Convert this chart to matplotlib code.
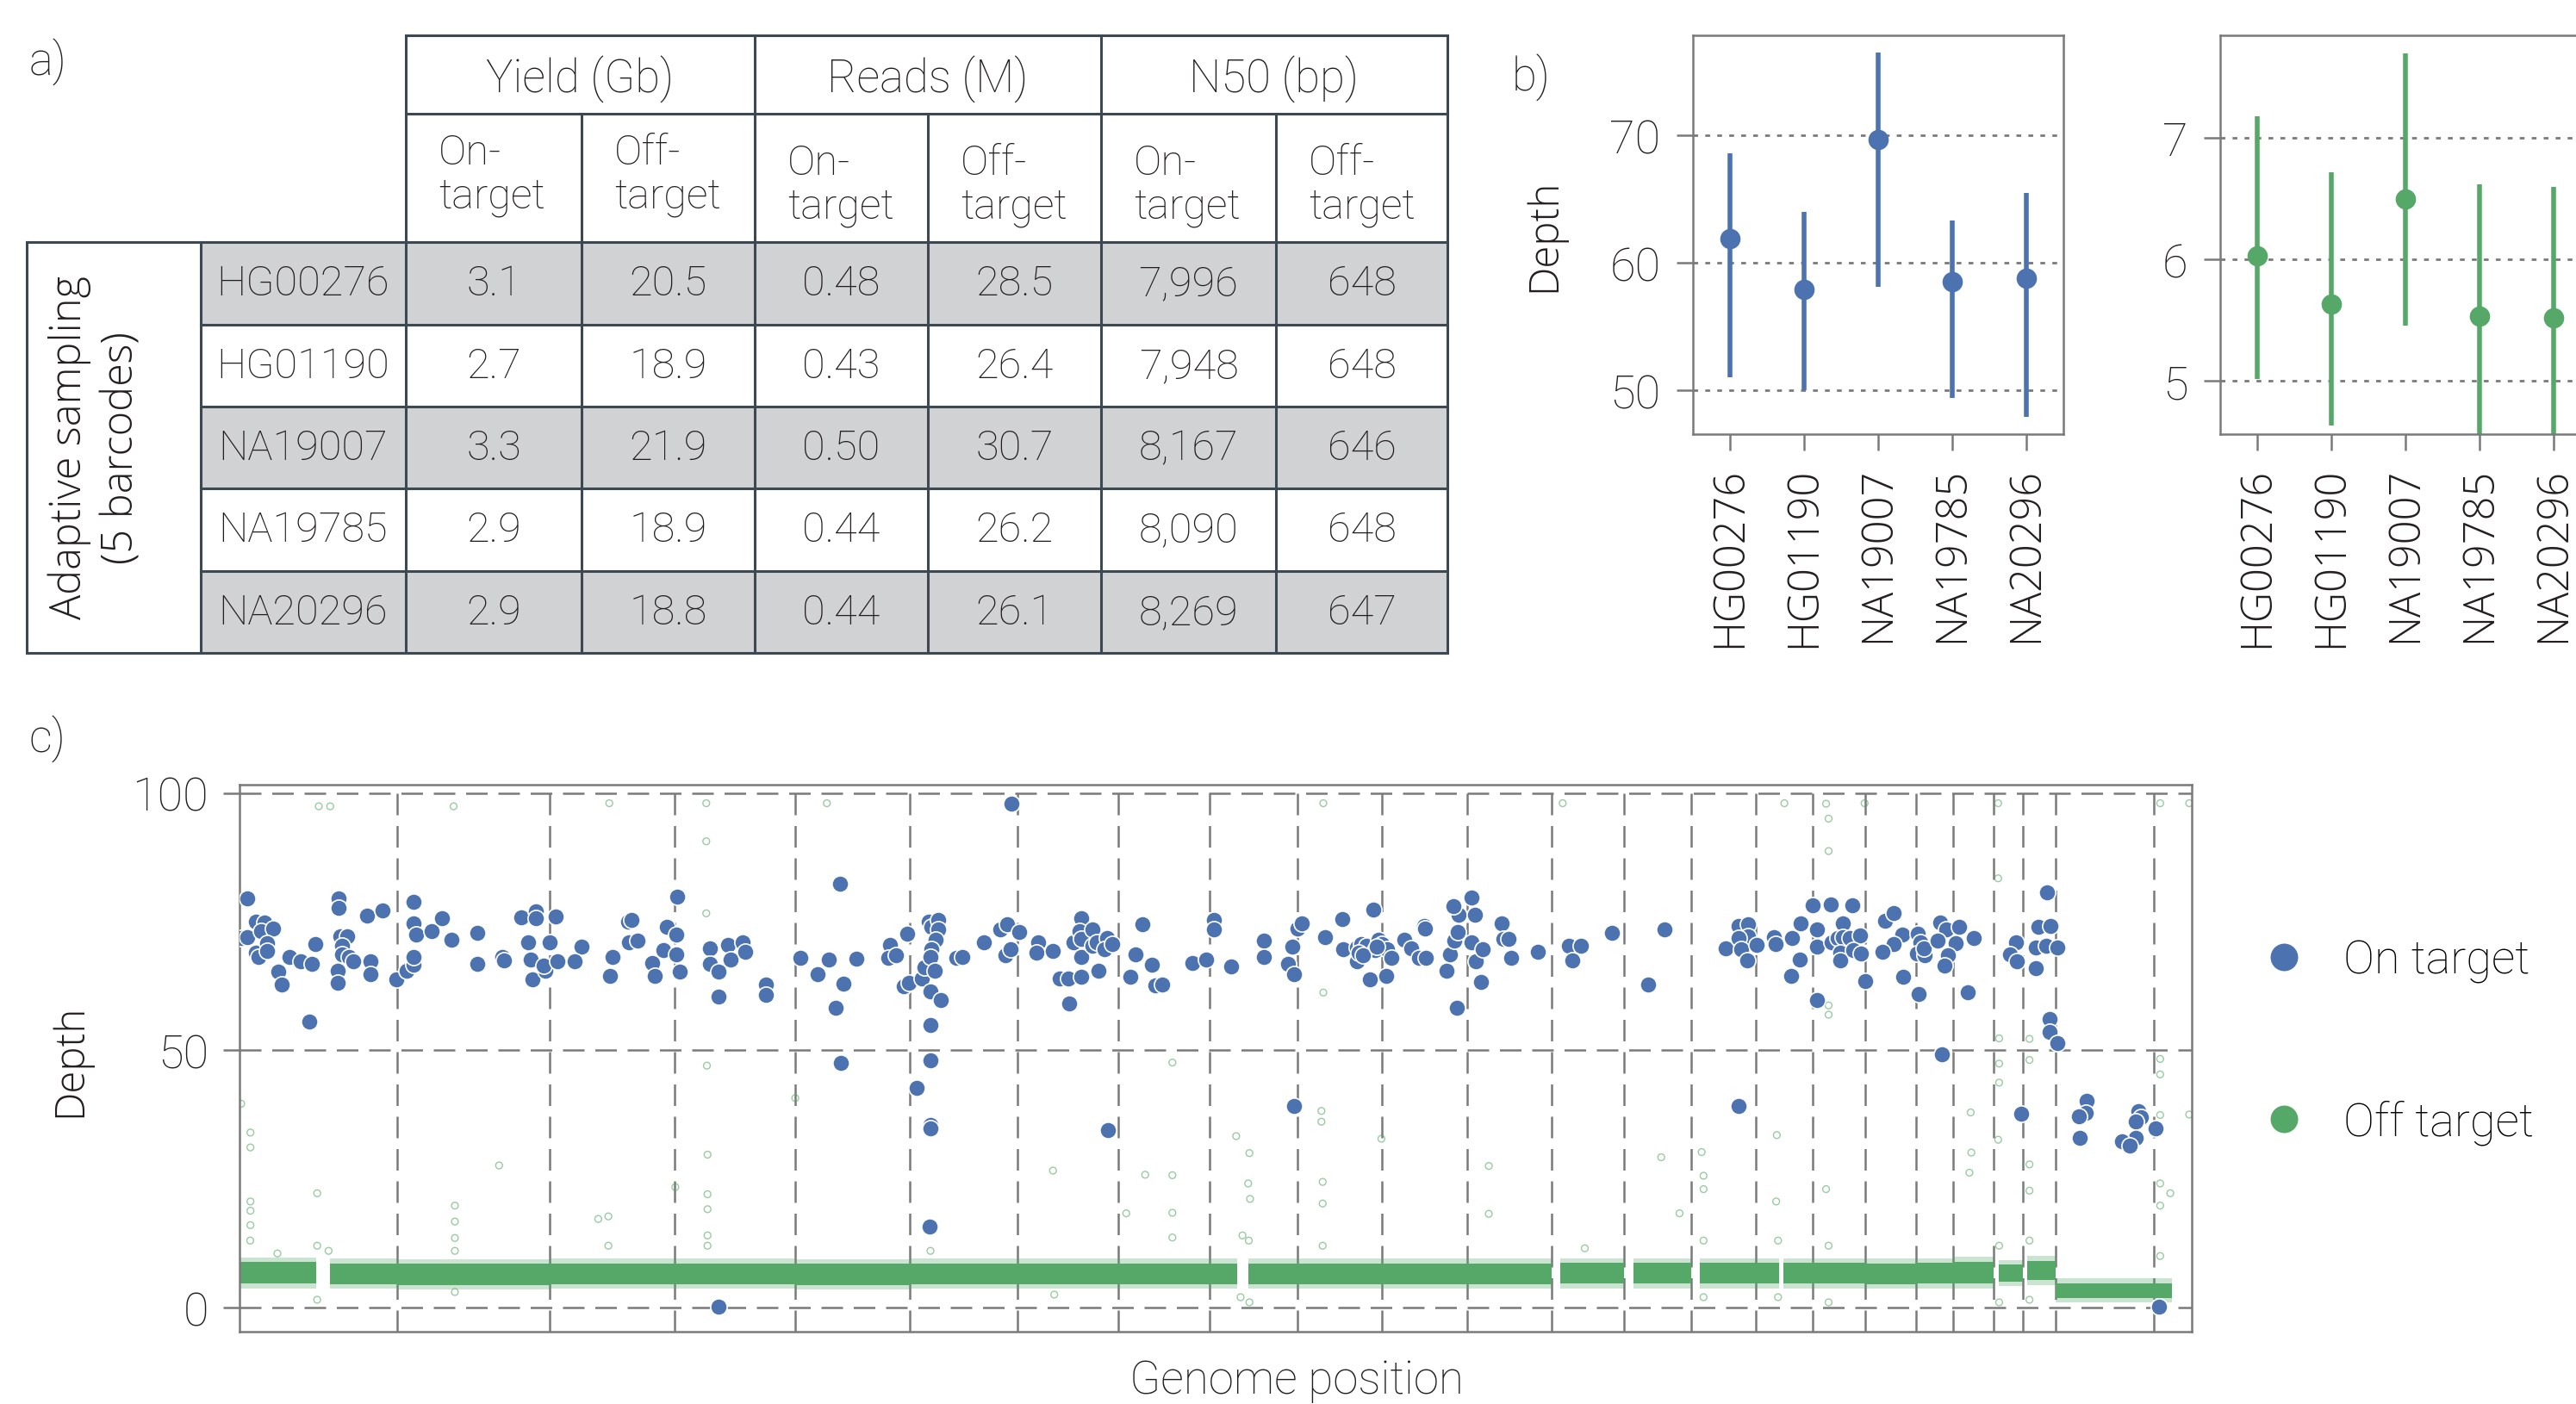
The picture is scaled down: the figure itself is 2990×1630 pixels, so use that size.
import numpy as np
import matplotlib.pyplot as plt
from matplotlib.lines import Line2D
from matplotlib.patches import Rectangle

plt.rcParams['font.family'] = ['Roboto', 'DejaVu Sans']
plt.rcParams['font.weight'] = 'light'

BLUE = '#4c72b0'
GREEN = '#55a868'
GRID = '#7a7a7a'
LINE = '#3c4952'
SHADE = '#d1d2d4'
TXT = '#231f20'
ROT = dict(family=['Open Sans', 'DejaVu Sans'], weight='light')  # wider face for the rotated texts

# ---------- a) table ----------
samples = ['HG00276', 'HG01190', 'NA19007', 'NA19785', 'NA20296']
groups = ['Yield (Gb)', 'Reads (M)', 'N50 (bp)']
sub_headers = ['On-\ntarget', 'Off-\ntarget']
yield_on = [3.1, 2.7, 3.3, 2.9, 2.9]
yield_off = [20.5, 18.9, 21.9, 18.9, 18.8]
reads_on = [0.48, 0.43, 0.50, 0.44, 0.44]
reads_off = [28.5, 26.4, 30.7, 26.2, 26.1]
n50_on = [7996, 7948, 8167, 8090, 8269]
n50_off = [648, 648, 646, 648, 647]

# ---------- b) mean depth per sample ----------
on_mean = [61.9, 57.9, 69.7, 58.5, 58.8]
on_low = [51.0, 50.0, 58.1, 49.4, 47.9]
on_high = [68.6, 64.0, 76.5, 63.3, 65.5]
off_mean = [6.03, 5.63, 6.50, 5.53, 5.52]
off_low = [5.01, 4.63, 5.45, 4.45, 4.45]
off_high = [7.18, 6.72, 7.70, 6.62, 6.60]

# ---------- c) depth along the genome (Mb) ----------
chrom_len = [248.96, 242.19, 198.30, 190.21, 181.54, 170.81, 159.35, 145.14,
             138.39, 133.80, 135.09, 133.28, 114.36, 107.04, 101.99, 90.34,
             83.26, 80.37, 58.62, 64.44, 46.71, 50.82, 156.04, 57.23]

on_pos = [12.7, 2.7, 12.7, 25.5, 39, 34.5, 53.6, 25.5, 30, 43.6, 43.6, 60.9, 66.4, 79, 97.3,
          115, 120, 110.5, 157, 157, 159.5, 170, 161.8, 161.8, 173, 180, 156, 156, 202, 226,
          207, 208, 248, 264, 275.5, 275.5, 275.5, 275.5, 279, 303.6, 320, 335.5, 376, 376,
          416, 419, 446, 468.6, 468.6, 457, 461, 464, 483.6, 482, 491, 500.5, 502.7,
          541, 530, 590, 586, 615.5, 621, 616, 630, 653, 658, 676, 671, 693, 692, 692, 697,
          745, 745, 759, 759, 773.6, 778, 796, 800.5, 834, 834, 758.6, 888, 915, 933, 950.5,
          956, 944.5, 951.5, 976,
          1030, 1027.7, 1039, 1057, 1052, 1059.5, 1071.8, 1080, 1084.5, 1091, 1096, 1106,
          1106, 1101.8, 1095, 1094, 1100.5, 1094.5, 1110.9, 1094, 1094, 1094, 1094, 1093,
          1134.5, 1144.5, 1179, 1205, 1216, 1212, 1221, 1234, 1222.3, 1264, 1262, 1287.7,
          1298.6, 1312, 1333, 1313.8, 1319.9, 1332.7, 1330.5, 1333, 1333, 1349.8, 1351,
          1357.3, 1373, 1370, 1382, 1360, 1375.5, 1418.6, 1430, 1410, 1445, 1450, 1460.5, 1508.2,
          1530, 1542.3, 1542.3, 1570, 1622, 1622, 1659.5, 1670, 1667.3, 1674.5, 1681.4, 1670,
          1718.6, 1746, 1747, 1769.5, 1769.5, 1775.5, 1784.5, 1789.5, 1795, 1797.3, 1803,
          1809, 1816.4, 1824, 1815.5, 1772, 1779, 1800, 1843.6, 1855, 1867.7, 1879, 1875.5,
          1876.4, 1911, 1917, 1922.7, 1928.6, 1929.5, 1921.4, 1927.7, 1951, 1955.5, 1950,
          1958, 1968, 1965, 1998, 2000.5, 2013,
          2009, 2056, 2105, 2124.5, 2110, 2172.3, 2256, 2230, 2353, 2373.6, 2388.2, 2389,
          2373.6, 2378, 2401.8, 2387, 2373.2, 2429.5, 2432.7, 2457.7, 2471.4, 2469.9, 2456.8,
          2490.5, 2498.2, 2498.2, 2498.2, 2520, 2521,
          2554, 2538, 2530, 2539, 2550, 2566, 2535, 2535, 2555, 2567.7, 2573.6, 2605, 2619.5,
          2632.3, 2619.5, 2601.4, 2634.5, 2658, 2657.3, 2661.8, 2656.4, 2668.6, 2666.4, 2693,
          2702, 2723, 2688, 2717.3, 2705, 2699, 2746, 2736, 2695, 2813, 2803, 2814, 2821,
          2861.8, 2848, 2867, 2844, 2860, 2878, 2844.5, 2866.4, 2866.4, 2878,
          2924, 2923, 2912, 2914, 3006.4, 3010.5, 3001.8, 3001.8, 2980, 2992.7, 3033.6, 3039]
on_depth = [79.5, 71.8, 71.9, 74.9, 74.8, 73.2, 73.7, 68.9, 68.2, 70.8, 69.3, 65.2, 62.7, 68.2, 67.3,
            66.7, 70.7, 55.6, 79.5, 77.6, 72.1, 72.2, 70.3, 68.6, 68.2, 67.3, 65.4, 63.1, 76.1, 77.2,
            67.2, 64.7, 63.8, 65.4, 66.6, 68.2, 74.6, 78.8, 72.5, 73.2, 75.6, 71.4, 72.8, 66.8,
            68.2, 67.5, 75.8, 77.0, 75.6, 71.0, 67.7, 63.8, 65.4, 66.5, 70.9, 76.0, 67.3,
            70.2, 67.2, 68.2, 64.5, 74.9, 75.3, 71.0, 71.3, 67.0, 64.5, 74.0, 69.4, 79.9, 72.5, 68.6, 65.3,
            69.8, 66.8, 65.3, 60.5, 70.5, 67.7, 71.0, 69.1, 62.7, 60.8, 0.2, 67.9, 64.8, 67.7, 82.3,
            62.9, 58.2, 47.6, 67.8,
            70.5, 67.9, 68.4, 72.6, 62.4, 63.1, 42.7, 64.0, 66.1, 74.9, 73.9, 75.4,
            73.5, 71.5, 69.6, 68.1, 65.5, 61.5, 59.7, 54.9, 48.1, 35.5, 34.8, 15.8,
            68.0, 68.1, 70.9, 73.4, 74.5, 68.4, 69.6, 73.0, 98.0, 70.9, 68.9, 69.3,
            64.0, 64.0, 64.2, 59.0, 70.9, 75.6, 73.1, 71.6, 68.2, 73.5, 70.3,
            70.9, 71.8, 69.6, 70.7, 65.4, 34.5, 68.7, 74.4, 64.3, 66.6, 62.6, 62.7, 67.0,
            67.7, 75.3, 73.5, 66.3, 71.3, 68.1, 66.7, 64.7, 70.2, 73.7, 74.6, 39.1,
            71.9, 75.5, 69.7, 70.0, 67.2, 70.7, 70.3, 63.8, 77.3, 69.4, 71.4,
            70.7, 69.6, 67.9, 64.5, 69.0, 68.5, 70.2, 71.4, 69.8, 68.0, 68.0, 74.2,
            73.7, 65.4, 68.6, 71.3, 73.0, 76.3, 78.0, 58.3, 79.6, 76.3, 70.9,
            67.2, 69.6, 63.3, 74.6, 71.6, 68.0,
            71.6, 69.1, 70.3, 70.3, 67.5, 72.8, 73.5, 62.7, 69.8, 74.1, 74.4, 72.1,
            71.8, 69.6, 70.5, 67.5, 39.1, 72.0, 70.6, 71.8, 74.7, 67.7, 64.5,
            78.2, 73.4, 70.1, 59.7, 78.3, 70.9,
            78.2, 74.6, 71.8, 72.0, 71.8, 72.3, 68.9, 67.4, 69.4, 68.8, 63.5, 75.1, 76.6,
            72.4, 70.6, 69.1, 64.3, 61.0, 72.7, 71.0, 68.8, 68.5, 69.8, 74.8,
            73.4, 74.0, 71.3, 70.8, 68.5, 66.5, 71.8, 61.3, 49.2, 70.9, 68.6, 67.2, 37.6,
            80.7, 73.9, 74.2, 70.0, 70.3, 70.0, 65.9, 56.0, 53.6, 51.3,
            40.2, 37.9, 37.1, 32.9, 38.1, 36.9, 36.2, 32.9, 32.3, 31.5, 34.8, 0.1]

# off-target depth: bulk band per genome segment (start, end in Mb; low/high depth)
band_start = [0, 143, 248.96, 491.15, 689.45, 879.66, 1061.2, 1232.0, 1391.36, 1536.5, 1597.5,
              1674.89, 1808.69, 1943.78, 2091, 2207, 2312, 2400.45, 2444, 2490.79, 2574.05,
              2654.42, 2713.04, 2785, 2830, 2875.01]
band_end = [121, 248.96, 491.15, 689.45, 879.66, 1061.2, 1232.0, 1391.36, 1536.5, 1579.5, 1674.89,
            1808.69, 1943.78, 2077.06, 2191.42, 2298.46, 2400.45, 2437, 2490.79, 2574.05, 2654.42,
            2713.04, 2777.48, 2824.19, 2875.01, 3059]
band_low = [4.6, 4.5, 4.4, 4.5, 4.5, 4.4, 4.5, 4.5, 4.5, 4.5, 4.5, 4.5, 4.5, 4.5, 4.6, 4.6, 4.6,
            4.6, 4.6, 4.6, 4.5, 4.6, 4.6, 5.0, 5.3, 1.9]
band_high = [8.8, 8.6, 8.5, 8.6, 8.6, 8.5, 8.6, 8.6, 8.6, 8.6, 8.6, 8.6, 8.6, 8.6, 8.7, 8.7, 8.7,
             8.7, 8.7, 8.7, 8.6, 8.7, 8.9, 8.3, 9.1, 4.7]

# off-target outlier windows
out_pos = [125.5, 143.6, 339, 2.7, 17.3, 17.3, 17.3, 17.3, 17.3, 123, 411, 341, 341, 341,
           585.5, 739, 739, 739, 740, 880, 930, 741, 741, 741, 584, 568, 690,
           1288, 1434, 1477, 1477, 1477, 1404, 1477,
           1716, 1716, 1713, 1713, 1578, 1599, 1597, 1600, 1808, 1978, 1978, 1715, 1715,
           2095, 2446, 2512, 2516, 2516, 2516, 2516, 2251, 2315, 2318, 2318, 2434, 2280, 2433, 2512,
           2573, 2784.5, 2784.5, 3041, 3087, 3087, 3041, 3041, 3041, 2786, 2786, 2786, 2834, 2834,
           2741, 2742, 2739, 2784.5, 3041, 3057, 2834, 2834, 3041,
           17, 123, 141, 341, 584, 741, 741, 1094, 1588, 1598, 1715, 2318, 2436, 2516, 2786,
           2834, 3041, 123, 341, 1599, 1585, 2318, 2436, 2516, 2786, 2834, 60, 1290, 2130]
out_depth = [97.4, 97.4, 97.4, 39.6, 34.0, 31.1, 20.6, 18.8, 16.0, 22.2, 27.6, 19.8, 16.7, 13.5,
             98.0, 98.0, 90.6, 76.6, 47.0, 40.7, 98.0, 29.7, 22.0, 19.1, 17.7, 17.2, 23.4,
             26.6, 25.8, 25.7, 18.4, 47.6, 18.3, 13.6,
             98.0, 61.2, 38.2, 36.1, 33.3, 30.0, 24.1, 21.1, 32.8, 27.5, 18.2, 24.4, 20.2,
             98.0, 98.0, 97.9, 95.0, 88.7, 58.7, 56.9, 29.2, 30.2, 25.6, 23.0, 33.5, 18.3, 20.6, 23.0,
             98.0, 98.0, 83.4, 98.0, 98.0, 37.5, 48.3, 45.3, 37.4, 52.3, 47.4, 43.7, 52.2, 48.1,
             37.9, 30.1, 26.2, 32.6, 24.1, 22.2, 27.8, 22.7, 19.8,
             13.0, 12.0, 11.0, 11.0, 12.0, 12.0, 14.0, 11.0, 14.0, 13.0, 12.0, 13.0, 13.0, 12.0, 12.0,
             13.0, 10.0, 1.5, 3.0, 1.0, 2.0, 2.0, 2.0, 1.0, 1.0, 1.5, 10.5, 2.5, 11.5]

W, H = 2990, 1631
fig = plt.figure(figsize=(W / 200, H / 200), dpi=200)

# background axes in pixel units for the table and panel letters
bg = fig.add_axes([0, 0, 1, 1])
bg.set_xlim(0, W)
bg.set_ylim(H, 0)
bg.axis('off')

col_x = [30.5, 233, 471, 675, 876, 1077, 1278, 1481, 1680]
row_y = [42, 133, 282, 378, 473, 568, 664, 759]
lc = dict(color=LINE, lw=1.1, solid_capstyle='projecting')

for i in range(len(samples)):
    if i % 2 == 0:
        bg.add_patch(Rectangle((col_x[1], row_y[2 + i]), col_x[-1] - col_x[1],
                               row_y[3 + i] - row_y[2 + i], color=SHADE, lw=0))

bg.plot([col_x[2], col_x[-1]], [row_y[0]] * 2, **lc)
bg.plot([col_x[2], col_x[-1]], [row_y[1]] * 2, **lc)
bg.plot([col_x[0], col_x[-1]], [row_y[2]] * 2, **lc)
for y in row_y[3:-1]:
    bg.plot([col_x[1], col_x[-1]], [y, y], **lc)
bg.plot([col_x[0], col_x[-1]], [row_y[-1]] * 2, **lc)
bg.plot([col_x[0]] * 2, [row_y[2], row_y[-1]], **lc)
bg.plot([col_x[1]] * 2, [row_y[2], row_y[-1]], **lc)
for j, x in enumerate(col_x[2:]):
    top = row_y[0] if j % 2 == 0 else row_y[1]
    bg.plot([x, x], [top, row_y[-1]], **lc)

tfs = 17.5
for g, name in enumerate(groups):
    bg.text((col_x[2 + 2 * g] + col_x[4 + 2 * g]) / 2, 92, name, ha='center', va='center',
            fontsize=19, color=TXT)
for k in range(6):
    yc = 203 if k < 2 else 215
    bg.text(col_x[2 + k] + 38, yc, sub_headers[k % 2], ha='left', va='center',
            fontsize=tfs, color=TXT, linespacing=1.1)

columns = [(yield_on, '{:.1f}'), (yield_off, '{:.1f}'), (reads_on, '{:.2f}'),
           (reads_off, '{:.1f}'), (n50_on, '{:,}'), (n50_off, '{}')]
for i, s in enumerate(samples):
    yc = (row_y[2 + i] + row_y[3 + i]) / 2
    bg.text((col_x[1] + col_x[2]) / 2, yc, s, ha='center', va='center', fontsize=tfs, color=TXT)
    for k, (vals, fmt) in enumerate(columns):
        bg.text((col_x[2 + k] + col_x[3 + k]) / 2, yc, fmt.format(vals[i]),
                ha='center', va='center', fontsize=tfs, color=TXT)
bg.text(111, 520, 'Adaptive sampling\n(5 barcodes)', rotation=90, ha='center', va='center',
        fontsize=17.5, color=TXT, linespacing=1.3, multialignment='center', **ROT)

bg.text(34, 72, 'a)', ha='left', va='center', fontsize=19, color=TXT)
bg.text(1755, 90, 'b)', ha='left', va='center', fontsize=19, color=TXT)
bg.text(34, 858, 'c)', ha='left', va='center', fontsize=19, color=TXT)


def style(ax):
    for sp in ax.spines.values():
        sp.set_color(GRID)
        sp.set_linewidth(0.9)
    ax.set_axisbelow(True)


# ---------- b) panels ----------
xs = np.arange(len(samples))
panels = [(1965, on_mean, on_low, on_high, BLUE, (46.55, 77.85), [50, 60, 70]),
          (2577, off_mean, off_low, off_high, GREEN, (4.558, 7.847), [5, 6, 7])]
for left, mean, lo, hi, col, ylim, yt in panels:
    ax = fig.add_axes([left / W, 1 - 505 / H, 430 / W, 463 / H])
    mean = np.array(mean)
    ax.errorbar(xs, mean, yerr=[mean - np.array(lo), np.array(hi) - mean], fmt='o',
                color=col, ms=7.5, elinewidth=2, capsize=0)
    ax.set_xlim(-0.5, 4.5)
    ax.set_ylim(*ylim)
    ax.set_xticks(xs)
    ax.set_xticklabels(samples, rotation=90, fontsize=17.5, **ROT)
    ax.set_yticks(yt)
    ax.grid(axis='y', linestyle=(0, (2, 3)), color=GRID, lw=1.0)
    ax.tick_params(length=7, width=0.9, color=GRID, pad=6.5, labelcolor=TXT)
    ax.tick_params(axis='y', labelsize=19.5)
    style(ax)
fig.text(1793 / W, 1 - 273 / H, 'Depth', rotation=90, ha='center', va='center', fontsize=17,
         color=TXT, **ROT)

# ---------- c) genome-wide depth ----------
axc = fig.add_axes([278 / W, 1 - 1547 / H, 2266 / W, 635 / H])
axc.set_xlim(0, 3091)
axc.set_ylim(-4.7, 101.6)
bounds = np.cumsum(chrom_len)[:-1]
axc.set_xticks(bounds)
axc.set_xticklabels([])
axc.tick_params(axis='x', length=0)
axc.set_yticks([0, 50, 100])
axc.tick_params(axis='y', length=7, width=0.9, color=GRID, labelsize=19.5, pad=6, labelcolor=TXT)
axc.grid(True, color=GRID, linestyle=(0, (10, 5)), lw=0.9)
style(axc)

for s, e, lo, hi in zip(band_start, band_end, band_low, band_high):
    axc.fill_between([s, e], [lo - 0.9] * 2, [hi + 0.9] * 2, color=GREEN, alpha=0.3, lw=0, zorder=2)
    axc.fill_between([s, e], [lo] * 2, [hi] * 2, color=GREEN, lw=0, zorder=2)
axc.scatter(out_pos, out_depth, s=8, facecolors='none', edgecolors=GREEN, linewidths=0.5,
            alpha=0.6, zorder=2)
axc.scatter(on_pos, on_depth, s=48, color=BLUE, edgecolors='white', linewidths=0.6, zorder=3)

handles = [Line2D([], [], marker='o', ls='', color=BLUE, markersize=12.5, markeredgecolor='white'),
           Line2D([], [], marker='o', ls='', color=GREEN, markersize=12.5, markeredgecolor='white')]
axc.legend(handles, ['On target', 'Off target'], loc='center left', bbox_to_anchor=(1.036, 0.53),
           frameon=False, fontsize=19.5, handlelength=0.95, handletextpad=0.8, labelspacing=2.5,
           borderpad=0, borderaxespad=0)

fig.text(82 / W, 1 - 1231 / H, 'Depth', rotation=90, ha='center', va='center', fontsize=17,
         color=TXT, **ROT)
fig.text(1505 / W, 1 - 1618 / H, 'Genome position', ha='center', va='baseline', fontsize=19,
         color=TXT)

fig.savefig('out.png', dpi=200)
